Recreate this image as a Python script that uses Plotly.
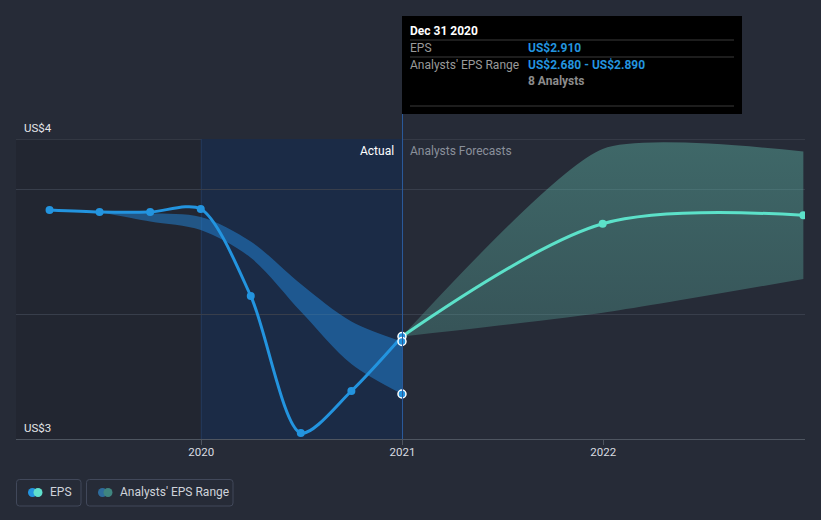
import plotly.graph_objects as go

# ---------------- data ----------------
eps_dates = ["2019-03-31", "2019-06-30", "2019-09-30", "2019-12-31",
             "2020-03-31", "2020-06-30", "2020-09-30", "2020-12-31"]
eps_values = [3.416, 3.408, 3.408, 3.420, 3.072, 2.524, 2.692, 2.910]

past_range_dates = ["2019-06-30", "2019-09-30", "2019-12-31", "2020-03-31",
                    "2020-06-30", "2020-09-30", "2020-12-31"]
past_range_high = [3.408, 3.403, 3.388, 3.290, 3.120, 2.970, 2.890]
past_range_low = [3.408, 3.370, 3.336, 3.225, 3.010, 2.800, 2.680]

forecast_dates = ["2020-12-31", "2021-12-31", "2022-12-31"]
forecast_eps = [2.910, 3.361, 3.395]
forecast_high = [2.910, 3.660, 3.650]
forecast_low = [2.910, 3.005, 3.140]

n_analysts = 8
tooltip_date = "Dec 31 2020"

x_ticks = ["2020-01-01", "2021-01-01", "2022-01-01"]
x_tick_labels = ["2020", "2021", "2022"]
y_grid = [3.0, 3.5]
y_min, y_max = 2.5, 3.7
y_label_bottom, y_label_top = "US$3", "US$4"

# ---------------- style ----------------
BG = "#262b37"
BLUE = "#2394df"
TEAL = "#5ce1c9"
FONT = "Roboto"
W, H = 821, 520
ML, MR, MT, MB = 16, 16, 139, 81
PW, PH = W - ML - MR, H - MT - MB


def px(xp):
    return (xp - ML) / PW


def py(yp):
    return (H - MB - yp) / PH


def rounded_rect(x0, y0, x1, y1, r):
    # pixel coords -> paper path with rounded corners
    rx, ry = r / PW, r / PH
    a, b, c, d = px(x0), py(y1), px(x1), py(y0)  # left, bottom, right, top (paper)
    return (f"M {a+rx},{b} L {c-rx},{b} Q {c},{b} {c},{b+ry} "
            f"L {c},{d-ry} Q {c},{d} {c-rx},{d} L {a+rx},{d} Q {a},{d} {a},{d-ry} "
            f"L {a},{b+ry} Q {a},{b} {a+rx},{b} Z")


fig = go.Figure()

# past analysts' range band
fig.add_trace(go.Scatter(x=past_range_dates, y=past_range_low, mode="lines",
                         line=dict(width=0, shape="spline", smoothing=0.9),
                         hoverinfo="skip", showlegend=False))
fig.add_trace(go.Scatter(x=past_range_dates, y=past_range_high, mode="lines",
                         line=dict(width=0, shape="spline", smoothing=0.9),
                         fill="tonexty", fillcolor="rgba(35,140,228,0.47)",
                         hoverinfo="skip", showlegend=False))

# forecast band
fig.add_trace(go.Scatter(x=forecast_dates, y=forecast_low, mode="lines",
                         line=dict(width=0, shape="spline", smoothing=0.6),
                         hoverinfo="skip", showlegend=False))
fig.add_trace(go.Scatter(x=forecast_dates, y=forecast_high, mode="lines",
                         line=dict(width=0, shape="spline", smoothing=0.6),
                         fill="tonexty",
                         fillgradient=dict(type="vertical",
                                           colorscale=[[0, "rgba(100,195,178,0.27)"],
                                                       [1, "rgba(100,195,178,0.40)"]]),
                         hoverinfo="skip", showlegend=False))

# forecast EPS line
fig.add_trace(go.Scatter(x=forecast_dates, y=forecast_eps, mode="lines+markers",
                         line=dict(color=TEAL, width=3, shape="spline", smoothing=0.9),
                         marker=dict(color=TEAL, size=8),
                         hoverinfo="skip", showlegend=False))

# EPS line
fig.add_trace(go.Scatter(x=eps_dates, y=eps_values, mode="lines+markers",
                         line=dict(color=BLUE, width=3, shape="spline", smoothing=0.8),
                         marker=dict(color=BLUE, size=8,
                                     line=dict(color=[BLUE] * (len(eps_values) - 1) + ["#ffffff"],
                                               width=[0] * (len(eps_values) - 1) + [1.5])),
                         hoverinfo="skip", showlegend=False))

# range end points
fig.add_trace(go.Scatter(x=[past_range_dates[-1]] * 2,
                         y=[past_range_high[-1], past_range_low[-1]],
                         mode="markers",
                         marker=dict(color=BLUE, size=8, line=dict(color="#ffffff", width=1.5)),
                         hoverinfo="skip", showlegend=False))

shapes = [
    # darker left region
    dict(type="rect", xref="paper", yref="y", x0=0, x1=px(201), y0=y_min, y1=y_max,
         fillcolor="rgba(0,0,0,0.1)", line=dict(width=0), layer="below"),
    # actual shaded region
    dict(type="rect", xref="x", yref="y", x0=x_ticks[0], x1=x_ticks[1], y0=y_min, y1=y_max,
         fillcolor="#1b2b46", line=dict(width=0), layer="below"),
    # vertical line 2020
    dict(type="line", xref="x", yref="y", x0=x_ticks[0], x1=x_ticks[0], y0=y_min, y1=y_max,
         line=dict(color="#233a5e", width=1), layer="below"),
    # top line
    dict(type="line", xref="paper", yref="y", x0=0, x1=1, y0=y_max, y1=y_max,
         line=dict(color="#454b57", width=1), layer="below"),
    # vertical line 2021 up to tooltip
    dict(type="line", xref="x", yref="paper", x0=x_ticks[1], x1=x_ticks[1], y0=0, y1=py(114),
         line=dict(color="#2b5b9b", width=1)),
    # tooltip box
    dict(type="rect", xref="paper", yref="paper", x0=px(402), x1=px(742), y0=py(114), y1=py(16),
         fillcolor="#000000", line=dict(width=0)),
]
for sy in (40, 57, 106):
    shapes.append(dict(type="line", xref="paper", yref="paper", x0=px(410), x1=px(734),
                       y0=py(sy), y1=py(sy), line=dict(color="#3a3a3a", width=1)))

# legend boxes
shapes.append(dict(type="path", xref="paper", yref="paper", path=rounded_rect(16.5, 479.5, 81, 506, 3),
                   line=dict(color="#41485a", width=1), fillcolor="rgba(0,0,0,0)"))
shapes.append(dict(type="path", xref="paper", yref="paper", path=rounded_rect(86.5, 479.5, 233, 506, 3),
                   line=dict(color="#41485a", width=1), fillcolor="rgba(0,0,0,0)"))
for cx, col in ((32.5, BLUE), (38, "#5fe0cc"), (102.5, "#2e6c9c"), (108, "#3f857f")):
    shapes.append(dict(type="circle", xref="paper", yref="paper", xsizemode="pixel", ysizemode="pixel",
                       xanchor=px(cx), yanchor=py(492.5), x0=-4.5, x1=4.5, y0=-4.5, y1=4.5,
                       fillcolor=col, line=dict(width=0)))

annotations = []


def ann(text, xp, yp, color, size=12, anchor="left", bold=False):
    if bold:
        text = "<b>" + text + "</b>"
    annotations.append(dict(text=text, xref="paper", yref="paper", x=px(xp), y=py(yp),
                            xanchor=anchor, yanchor="middle", showarrow=False,
                            font=dict(family=FONT, size=size, color=color)))


ann(y_label_top, 22, 128, "#e4e6ea", 11.5)
ann(y_label_bottom, 22, 428, "#e4e6ea", 11.5)
ann("Actual", 396, 151, "#ffffff", 12, anchor="right")
ann("Analysts Forecasts", 408, 151, "#8a909b", 12)

ann(tooltip_date, 408, 31, "#ffffff", 12, bold=True)
ann("EPS", 408, 48, "#9a9a9a", 12)
ann("US$%.3f" % eps_values[-1], 526, 48, BLUE, 12, bold=True)
ann("Analysts' EPS Range", 408, 65, "#9a9a9a", 12)
ann("US$%.3f - US$%.3f" % (past_range_low[-1], past_range_high[-1]), 526, 65, BLUE, 12, bold=True)
ann("%d Analysts" % n_analysts, 526, 81, "#8c8c8c", 12, bold=True)

ann("EPS", 48, 492.5, "#cfd3da", 12)
ann("Analysts' EPS Range", 118, 492.5, "#cfd3da", 12)

fig.update_layout(
    width=W, height=H,
    margin=dict(l=ML, r=MR, t=MT, b=MB),
    paper_bgcolor=BG, plot_bgcolor=BG,
    hovermode=False,
    showlegend=False,
    shapes=shapes,
    annotations=annotations,
    font=dict(family=FONT, color="#d9dce1"),
    xaxis=dict(type="date", range=["2019-01-29", "2023-01-03"],
               tickvals=x_ticks, ticktext=x_tick_labels,
               ticks="outside", ticklen=5, tickcolor="#4e5560",
               ticklabelstandoff=-3,
               showgrid=False, showline=True, linecolor="#4e5560", linewidth=1,
               tickfont=dict(family=FONT, size=11.5, color="#d9dce1"),
               zeroline=False, fixedrange=True),
    yaxis=dict(range=[y_min, y_max], tickvals=y_grid, showticklabels=False,
               showgrid=True, gridcolor="#383e4b", gridwidth=1,
               zeroline=False, showline=False, fixedrange=True),
)

fig.write_html("out.html")
